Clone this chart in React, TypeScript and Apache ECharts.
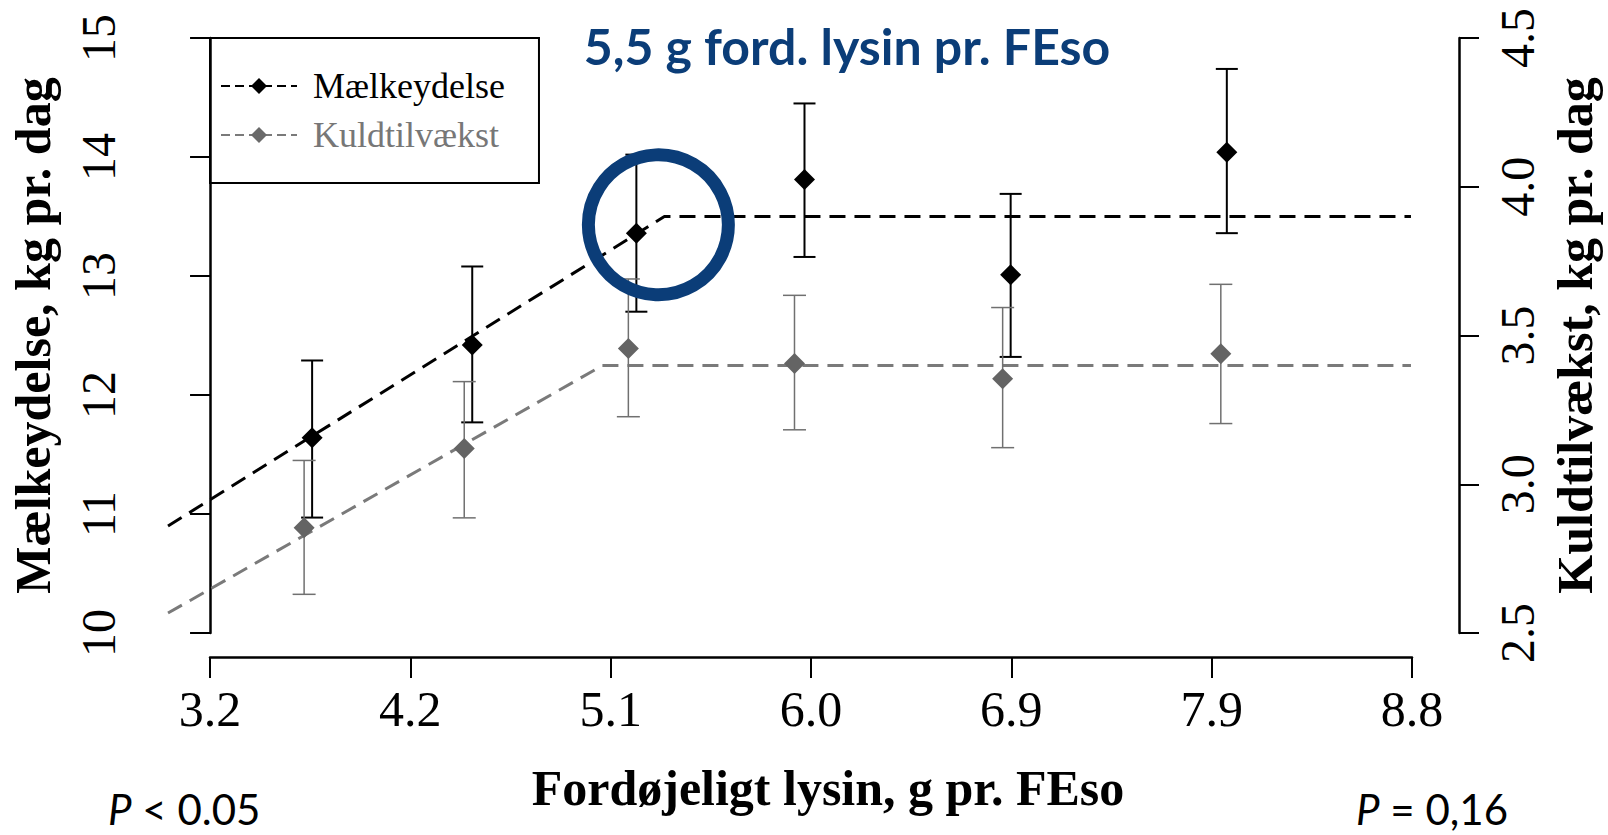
import React, { useEffect, useRef } from "react";
import * as echarts from "echarts";

// x positions are in tick units: 0 = "3.2", 1 = "4.2", ... 6 = "8.8"
const xTickLabels = ["3.2", "4.2", "5.1", "6.0", "6.9", "7.9", "8.8"];

// Mælkeydelse (left axis, kg/dag)
const milkX = [0.51, 1.31, 2.13, 2.97, 4.0, 5.08];
const milkMean = [11.64, 12.42, 13.36, 13.81, 13.01, 14.04];
const milkLow = [10.97, 11.77, 12.7, 13.16, 12.32, 13.36];
const milkHigh = [12.29, 13.08, 14.02, 14.45, 13.69, 14.74];
const milkFitX = [-0.21, 2.27, 6];
const milkFitY = [10.9, 13.5, 13.5];

// Kuldtilvækst (right axis, kg/dag)
const litterX = [0.47, 1.27, 2.09, 2.92, 3.96, 5.05];
const litterMean = [2.854, 3.12, 3.456, 3.406, 3.355, 3.439];
const litterLow = [2.63, 2.887, 3.227, 3.183, 3.123, 3.204];
const litterHigh = [3.08, 3.345, 3.69, 3.635, 3.594, 3.672];
const litterFitX = [-0.21, 1.96, 6];
const litterFitY = [2.567, 3.399, 3.399];

// highlighted break point (circle annotation), in data units
const highlightPoint = [2.24, 13.43];

const SERIF = "Liberation Serif";
const SANS = "Lato";
const BLUE = "#0b3d78";

function errorBarSeries(name: string, yAxisIndex: number, xs: number[], lo: number[], hi: number[], color: string, width: number, halfCap: number) {
  return {
    name,
    type: "custom",
    xAxisIndex: 0,
    yAxisIndex,
    silent: true,
    encode: { x: 0, y: [1, 2] },
    data: xs.map((x, i) => [x, lo[i], hi[i]]),
    renderItem: (params: any, api: any) => {
      const x = api.value(0);
      const pLo = api.coord([x, api.value(1)]);
      const pHi = api.coord([x, api.value(2)]);
      const style = { stroke: color, lineWidth: width };
      return {
        type: "group",
        children: [
          { type: "line", shape: { x1: pLo[0], y1: pLo[1], x2: pHi[0], y2: pHi[1] }, style },
          { type: "line", shape: { x1: pLo[0] - halfCap, y1: pLo[1], x2: pLo[0] + halfCap, y2: pLo[1] }, style },
          { type: "line", shape: { x1: pHi[0] - halfCap, y1: pHi[1], x2: pHi[0] + halfCap, y2: pHi[1] }, style },
        ],
      };
    },
    z: 3,
  };
}

export default function App() {
  const ref = useRef<HTMLDivElement>(null);

  useEffect(() => {
    if (!ref.current) return;
    const chart = echarts.init(ref.current, undefined, { renderer: "svg" });
    const pText = (text: string, x: number, align: string) => ({
      type: "text",
      x,
      y: 809,
      style: {
        text,
        fill: "#000",
        font: `42px ${SANS}`,
        lineHeight: 42,
        align,
        verticalAlign: "middle",
        rich: {
          i: { fontStyle: "italic", fontFamily: SANS, fontSize: 42, lineHeight: 42, fill: "#000" },
          n: { fontFamily: SANS, fontSize: 42, lineHeight: 42, fill: "#000" },
        },
      },
    });
    const option: any = {
      animation: false,
      backgroundColor: "#ffffff",
      grid: [
        { left: 162, top: 38, width: 1297, height: 595, containLabel: false },
        { left: 210, top: 600, width: 1202, height: 57, containLabel: false },
      ],
      xAxis: [
        { type: "value", gridIndex: 0, min: -0.24, max: 6.24, show: false },
        {
          type: "value",
          gridIndex: 1,
          position: "bottom",
          min: 0,
          max: 6,
          interval: 1,
          axisLine: { show: true, lineStyle: { color: "#000", width: 2.5 } },
          axisTick: { show: true, length: 21, lineStyle: { color: "#000", width: 2 } },
          axisLabel: {
            margin: 27,
            fontFamily: SERIF,
            fontSize: 50,
            color: "#000",
            formatter: (v: number) => xTickLabels[Math.round(v)] ?? "",
          },
          splitLine: { show: false },
        },
      ],
      yAxis: [
        {
          type: "value",
          gridIndex: 0,
          position: "left",
          min: 10,
          max: 15,
          interval: 1,
          name: "Mælkeydelse, kg pr. dag",
          nameLocation: "middle",
          nameRotate: 90,
          nameGap: 104,
          nameTextStyle: { fontFamily: SERIF, fontWeight: "bold", fontSize: 50, color: "#000" },
          axisLine: { show: true, lineStyle: { color: "#000", width: 2.5 } },
          axisTick: { show: true, length: 20, lineStyle: { color: "#000", width: 2 } },
          axisLabel: { rotate: 90, margin: 40, fontFamily: SERIF, fontSize: 48, color: "#000" },
          splitLine: { show: false },
        },
        {
          type: "value",
          gridIndex: 0,
          position: "right",
          min: 2.5,
          max: 4.5,
          interval: 0.5,
          name: "Kuldtilvækst, kg pr. dag",
          nameLocation: "middle",
          nameRotate: 90,
          nameGap: 91,
          nameTextStyle: { fontFamily: SERIF, fontWeight: "bold", fontSize: 50, color: "#000" },
          axisLine: { show: true, lineStyle: { color: "#000", width: 2.5 } },
          axisTick: { show: true, length: 20, lineStyle: { color: "#000", width: 2 } },
          axisLabel: {
            rotate: 90,
            margin: 34,
            fontFamily: SERIF,
            fontSize: 48,
            color: "#000",
            formatter: (v: number) => v.toFixed(1),
          },
          splitLine: { show: false },
        },
        { type: "value", gridIndex: 1, min: 0, max: 1, show: false },
      ],
      legend: {
        orient: "vertical",
        left: 210,
        top: 38,
        padding: [30, 34, 30, 10],
        itemGap: 13,
        itemWidth: 76,
        itemHeight: 20,
        borderColor: "#000",
        borderWidth: 2,
        borderRadius: 0,
        selectedMode: false,
        lineStyle: { type: [9, 5], width: 2 },
        textStyle: { fontFamily: SERIF, fontSize: 36, color: "#000", padding: [0, 0, 0, 11] },
        data: [
          { name: "Mælkeydelse", textStyle: { color: "#000" } },
          { name: "Kuldtilvækst", textStyle: { color: "#777" } },
        ],
      },
      graphic: [
        {
          type: "text",
          x: 847,
          y: 46,
          style: {
            text: "5,5 g ford. lysin pr. FEso",
            fill: BLUE,
            font: `bold 50px ${SANS}`,
            align: "center",
            verticalAlign: "middle",
          },
          z: 20,
        },
        {
          type: "text",
          x: 828,
          y: 788,
          style: {
            text: "Fordøjeligt lysin, g pr. FEso",
            fill: "#000",
            font: `bold 50px "${SERIF}"`,
            align: "center",
            verticalAlign: "middle",
          },
        },
        pText("{i|P}{n| < 0.05}", 108, "left"),
        pText("{i|P}{n| = 0,16}", 1508, "right"),
      ],
      series: [
        {
          name: "Mælkeydelse",
          type: "line",
          xAxisIndex: 0,
          yAxisIndex: 0,
          data: milkFitX.map((x, i) => [x, milkFitY[i]]),
          symbol: "diamond",
          symbolSize: 16,
          showSymbol: false,
          silent: true,
          lineStyle: { color: "#000", width: 3, type: [16, 9] },
          itemStyle: { color: "#000" },
          z: 2,
        },
        {
          name: "Kuldtilvækst",
          type: "line",
          xAxisIndex: 0,
          yAxisIndex: 1,
          data: litterFitX.map((x, i) => [x, litterFitY[i]]),
          symbol: "diamond",
          symbolSize: 16,
          showSymbol: false,
          silent: true,
          lineStyle: { color: "#7a7a7a", width: 3, type: [16, 9] },
          itemStyle: { color: "#6a6a6a" },
          z: 2,
        },
        errorBarSeries("Mælkeydelse SE", 0, milkX, milkLow, milkHigh, "#000", 2, 11),
        errorBarSeries("Kuldtilvækst SE", 1, litterX, litterLow, litterHigh, "#707070", 1.5, 11.5),
        {
          name: "Mælkeydelse punkter",
          type: "scatter",
          xAxisIndex: 0,
          yAxisIndex: 0,
          symbol: "diamond",
          symbolSize: 21,
          silent: true,
          data: milkX.map((x, i) => [x, milkMean[i]]),
          itemStyle: { color: "#000", opacity: 1 },
          z: 4,
        },
        {
          name: "Kuldtilvækst punkter",
          type: "scatter",
          xAxisIndex: 0,
          yAxisIndex: 1,
          symbol: "diamond",
          symbolSize: 21,
          silent: true,
          data: litterX.map((x, i) => [x, litterMean[i]]),
          itemStyle: { color: "#646464", opacity: 1 },
          z: 4,
        },
        {
          name: "Brudpunkt",
          type: "scatter",
          xAxisIndex: 0,
          yAxisIndex: 0,
          symbol: "circle",
          symbolSize: 140,
          silent: true,
          data: [highlightPoint],
          itemStyle: { color: "rgba(0,0,0,0)", borderColor: BLUE, borderWidth: 13, opacity: 1 },
          z: 10,
        },
      ],
    };
    chart.setOption(option);
    return () => chart.dispose();
  }, []);

  return (
    <div
      ref={ref}
      style={{ position: "fixed", left: 0, top: 0, width: 1608, height: 835, background: "#fff" }}
    />
  );
}
